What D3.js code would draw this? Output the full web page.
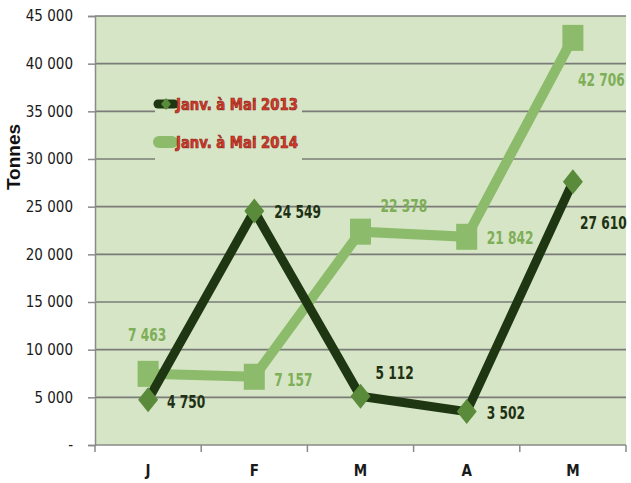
<!DOCTYPE html>
<html lang="fr">
<head>
<meta charset="UTF-8">
<title>Tonnes Janv. à Mai</title>
<style>
  body { margin: 0; background: #fff; }
  text { font-family: "DejaVu Sans Condensed", "DejaVu Sans", sans-serif; }
</style>
</head>
<body>
<div id="chart"></div>
<script src="https://d3js.org/d3.v7.min.js"></script>
<script>
const months = ["J", "F", "M", "A", "M"];
const values2013 = [4750, 24549, 5112, 3502, 27610];
const values2014 = [7463, 7157, 22378, 21842, 42706];
const yTicks = [0, 5000, 10000, 15000, 20000, 25000, 30000, 35000, 40000, 45000];
const seriesNames = ["Janv. à Mai 2013", "Janv. à Mai 2014"];

const W = 631, H = 483;
const margin = { top: 16, right: 5, bottom: 38, left: 95 };
const width = W - margin.left - margin.right;
const height = H - margin.top - margin.bottom;

const fmt = d => d === 0 ? "-" : d3.format(",")(d).replace(/,/g, " ");

const svg = d3.select("#chart").append("svg")
  .attr("width", W).attr("height", H);
const g = svg.append("g").attr("transform", `translate(${margin.left},${margin.top})`);

const x = d3.scaleBand().domain(d3.range(months.length)).range([0, width]);
const y = d3.scaleLinear().domain([0, 45000]).range([height, 0]);

// plot background
g.append("rect").attr("width", width).attr("height", height).attr("fill", "#d5e5c5");

// grid lines, the legend box cuts two of them
const legendBox = { x0: 60, x1: 207 };
const gridColor = "#7b7c78";
yTicks.slice(1).forEach(t => {
  const yy = y(t);
  const parts = (t === 35000 || t === 30000) ? [[0, legendBox.x0], [legendBox.x1, width]] : [[0, width]];
  parts.forEach(([a, b]) => {
    g.append("line").attr("x1", a).attr("x2", b).attr("y1", yy).attr("y2", yy)
      .attr("stroke", gridColor).attr("stroke-width", 1.6);
  });
});

// y axis
g.append("g")
  .call(d3.axisLeft(y).tickValues(yTicks).tickFormat(fmt).tickSize(7).tickPadding(15))
  .call(a => a.select(".domain").attr("stroke", "#8a8a88").attr("stroke-width", 1.5))
  .call(a => a.selectAll(".tick line").attr("stroke", "#8a8a88").attr("stroke-width", 1.5))
  .call(a => a.selectAll(".tick text").attr("fill", "#1a1a1a").style("font-size", "15px")
    .style("font-family", "'DejaVu Sans Condensed', sans-serif"));

// x axis
const xa = g.append("g").attr("transform", `translate(0,${height})`);
xa.append("line").attr("x1", 0).attr("x2", width).attr("stroke", "#8a8a88").attr("stroke-width", 1.5);
d3.range(months.length + 1).forEach(i => {
  const xx = i * x.bandwidth();
  xa.append("line").attr("x1", xx).attr("x2", xx).attr("y1", 0).attr("y2", 7)
    .attr("stroke", "#8a8a88").attr("stroke-width", 1.5);
});
xa.selectAll("text.month").data(months).join("text")
  .attr("class", "month")
  .attr("x", (d, i) => x(i) + x.bandwidth() / 2)
  .attr("y", 31)
  .attr("text-anchor", "middle")
  .attr("fill", "#1a1a1a").style("font-size", "15px").style("font-weight", "bold")
  .text(d => d);

// y axis title
svg.append("text")
  .attr("transform", "translate(20,157) rotate(-90)")
  .attr("text-anchor", "middle")
  .style("font-family", "'Liberation Sans', Arial, sans-serif")
  .style("font-size", "19px").style("font-weight", "bold").attr("fill", "#111")
  .text("Tonnes");

const cx = i => x(i) + x.bandwidth() / 2;
const line = d3.line().x((d, i) => cx(i)).y(d => y(d));

const dark = "#1e3611", darkMarker = "#5a8b3a";
const light = "#8cbb6b", lightLabel = "#7eae58";

// 2014 series
g.append("path").datum(values2014).attr("d", line)
  .attr("fill", "none").attr("stroke", light).attr("stroke-width", 10).attr("stroke-linejoin", "miter");
g.selectAll("rect.sq").data(values2014).join("rect")
  .attr("class", "sq")
  .attr("x", (d, i) => cx(i) - 10.5).attr("y", d => y(d) - 13)
  .attr("width", 21).attr("height", 26).attr("fill", light);

// 2013 series
g.append("path").datum(values2013).attr("d", line)
  .attr("fill", "none").attr("stroke", dark).attr("stroke-width", 9).attr("stroke-linejoin", "miter");
const diamond = "M0,-12.5L10,0L0,12.5L-10,0Z";
g.selectAll("path.dia").data(values2013).join("path")
  .attr("class", "dia")
  .attr("d", diamond)
  .attr("transform", (d, i) => `translate(${cx(i)},${y(d)})`)
  .attr("fill", darkMarker);

// data labels, offsets from the marker centre
const off2013 = [[19, 8], [20, 7], [15, -17], [20, 7], [7, 47]];
const off2014 = [[-20, -33], [20, 9], [20, -20], [20, 7], [5, 48]];

function labels(cls, vals, offs, color) {
  g.selectAll("text." + cls).data(vals).join("text")
    .attr("class", cls)
    .attr("transform", (d, i) => `translate(${cx(i) + offs[i][0]},${y(d) + offs[i][1]}) scale(0.8,1)`)
    .attr("fill", color).style("font-size", "17px").style("font-weight", "bold")
    .text(fmt);
}
labels("l13", values2013, off2013, "#1f3114");
labels("l14", values2014, off2014, lightLabel);

// legend
const lg = svg.append("g").attr("transform", "translate(155,104)");
lg.append("line").attr("x1", 3).attr("x2", 19).attr("y1", 0).attr("y2", 0)
  .attr("stroke", dark).attr("stroke-width", 9).attr("stroke-linecap", "round");
lg.append("path").attr("d", "M0,-6L5,0L0,6L-5,0Z")
  .attr("transform", "translate(11,0)").attr("fill", darkMarker);
lg.append("line").attr("x1", 4).attr("x2", 17).attr("y1", 38).attr("y2", 38)
  .attr("stroke", light).attr("stroke-width", 12).attr("stroke-linecap", "round");
lg.selectAll("text").data(seriesNames).join("text")
  .attr("transform", (d, i) => `translate(21,${i * 38 + 6}) scale(0.92,1)`)
  .attr("fill", "#d8392b").attr("stroke", "#8e2a1c").attr("stroke-width", 0.7)
  .style("font-family", "'DejaVu Sans Condensed', sans-serif")
  .style("font-size", "16px").style("font-weight", "bold")
  .text(d => d);
</script>
</body>
</html>
